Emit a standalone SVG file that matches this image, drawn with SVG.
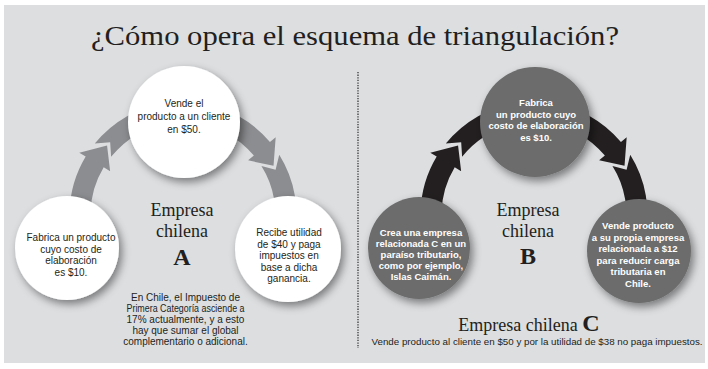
<svg xmlns="http://www.w3.org/2000/svg" width="708" height="369" viewBox="0 0 708 369">
  <defs>
    <filter id="sh" x="-30%" y="-30%" width="170%" height="170%">
      <feDropShadow dx="3" dy="4" stdDeviation="4" flood-color="#000" flood-opacity="0.45"/>
    </filter>
    <style>
      .title { font-family: "Liberation Serif", serif; font-size: 28px; fill: #231f20; }
      .emp { font-family: "Liberation Serif", serif; font-size: 18px; fill: #231f20; text-anchor: middle; }
      .big { font-family: "Liberation Serif", serif; font-size: 24px; font-weight: bold; fill: #231f20; text-anchor: middle; }
      .t { font-family: "Liberation Sans", Arial, sans-serif; font-size: 10px; fill: #231f20; text-anchor: middle; }
      .tw { font-family: "Liberation Sans", Arial, sans-serif; font-size: 9.5px; font-weight: bold; fill: #ffffff; text-anchor: middle; }
      .wc { fill: #ffffff; filter: url(#sh); }
      .dc { fill: #6c6c6c; filter: url(#sh); }
      .ga { fill: #8c8d90; }
      .ba { fill: #231f20; }
    </style>
    <path id="arrL" d="M 69.57 211.04 A 113.5 113.5 0 0 1 85.71 156.54 L 79.28 152.68 L 107.06 145.41 L 110.14 171.22 L 103.71 167.36 A 92.5 92.5 0 0 0 90.56 211.77 Z"/>
    <path id="notL" d="M 94.79 143.57 A 113.5 113.5 0 0 1 167.20 102.60 L 170.13 123.40 A 92.5 92.5 0 0 0 111.11 156.79 L 110.17 142.17 Z"/>
    <path id="arrR" d="M 198.80 102.60 A 113.5 113.5 0 0 1 269.95 142.04 L 275.69 137.22 L 273.52 165.85 L 248.11 160.36 L 253.86 155.54 A 92.5 92.5 0 0 0 195.87 123.40 Z"/>
    <path id="notR" d="M 279.25 154.85 A 113.5 113.5 0 0 1 294.02 238.60 L 273.48 234.23 A 92.5 92.5 0 0 0 261.44 165.98 L 275.58 169.85 Z"/>
  </defs>

  <rect x="4" y="5" width="701" height="358" fill="#dcdee0"/>

  <text class="title" x="91" y="45" textLength="528" lengthAdjust="spacingAndGlyphs">¿Cómo opera el esquema de triangulación?</text>

  <line x1="358" y1="72" x2="358" y2="348" stroke="#2a2a2a" stroke-width="1.2" stroke-dasharray="1.3 1.3"/>

  <g id="connectors">
    <g class="ga">
      <use href="#arrL"/>
      <use href="#notL"/>
      <use href="#arrR"/>
      <use href="#notR"/>
    </g>
    <g class="ba" transform="translate(351,0)">
      <use href="#arrL"/>
      <use href="#notL"/>
      <use href="#arrR"/>
      <use href="#notR"/>
    </g>
  </g>

  <!-- Left diagram: Empresa chilena A -->
  <g id="a-top">
    <circle class="wc" cx="184" cy="122" r="56"/>
    <text class="t" x="184" y="107">Vende el</text>
    <text class="t" x="184" y="120">producto a un cliente</text>
    <text class="t" x="184" y="133">en $50.</text>
  </g>
  <g id="a-left">
    <circle class="wc" cx="67" cy="248" r="52"/>
    <text class="t" x="71" y="241">Fabrica un producto</text>
    <text class="t" x="71" y="252.5">cuyo costo de</text>
    <text class="t" x="71" y="264">elaboración</text>
    <text class="t" x="71" y="275.5">es $10.</text>
  </g>
  <g id="a-right">
    <circle class="wc" cx="288" cy="249" r="53"/>
    <text class="t" x="289" y="236">Recibe utilidad</text>
    <text class="t" x="289" y="247.5">de $40 y paga</text>
    <text class="t" x="289" y="259">impuestos en</text>
    <text class="t" x="289" y="270.5">base a dicha</text>
    <text class="t" x="289" y="282">ganancia.</text>
  </g>
  <g id="a-label">
    <text class="emp" x="182" y="216">Empresa</text>
    <text class="emp" x="182" y="237">chilena</text>
    <text class="big" x="182" y="265">A</text>
  </g>
  <g id="a-note">
    <text class="t" x="185.5" y="301">En Chile, el Impuesto de</text>
    <text class="t" x="185.5" y="312" textLength="118" lengthAdjust="spacingAndGlyphs">Primera Categoría asciende a</text>
    <text class="t" x="185.5" y="323">17% actualmente, y a esto</text>
    <text class="t" x="185.5" y="334">hay que sumar el global</text>
    <text class="t" x="185.5" y="345">complementario o adicional.</text>
  </g>

  <!-- Right diagram: Empresa chilena B -->
  <g id="b-top">
    <circle class="dc" cx="535" cy="122" r="55"/>
    <text class="tw" x="536" y="106">Fabrica</text>
    <text class="tw" x="536" y="117.5">un producto cuyo</text>
    <text class="tw" x="536" y="129">costo de elaboración</text>
    <text class="tw" x="536" y="140.5">es $10.</text>
  </g>
  <g id="b-left">
    <circle class="dc" cx="419" cy="248" r="51"/>
    <text class="tw" x="421" y="235.5">Crea una empresa</text>
    <text class="tw" x="421" y="246.5">relacionada C en un</text>
    <text class="tw" x="421" y="257.5">paraíso tributario,</text>
    <text class="tw" x="421" y="268.5">como por ejemplo,</text>
    <text class="tw" x="421" y="279.5">Islas Caimán.</text>
  </g>
  <g id="b-right">
    <circle class="dc" cx="639" cy="251" r="52"/>
    <text class="tw" x="638" y="229">Vende producto</text>
    <text class="tw" x="638" y="240.5">a su propia empresa</text>
    <text class="tw" x="638" y="252">relacionada a $12</text>
    <text class="tw" x="638" y="263.5">para reducir carga</text>
    <text class="tw" x="638" y="275">tributaria en</text>
    <text class="tw" x="638" y="286.5">Chile.</text>
  </g>
  <g id="b-label">
    <text class="emp" x="528" y="216">Empresa</text>
    <text class="emp" x="528" y="237">chilena</text>
    <text class="big" x="528" y="264">B</text>
  </g>
  <g id="c-label">
    <text class="emp" x="529" y="331">Empresa chilena <tspan style="font-size:24px;font-weight:bold">C</tspan></text>
    <text class="t" x="537" y="345" style="font-size:9.5px" textLength="331" lengthAdjust="spacingAndGlyphs">Vende producto al cliente en $50 y por la utilidad de $38 no paga impuestos.</text>
  </g>
</svg>
